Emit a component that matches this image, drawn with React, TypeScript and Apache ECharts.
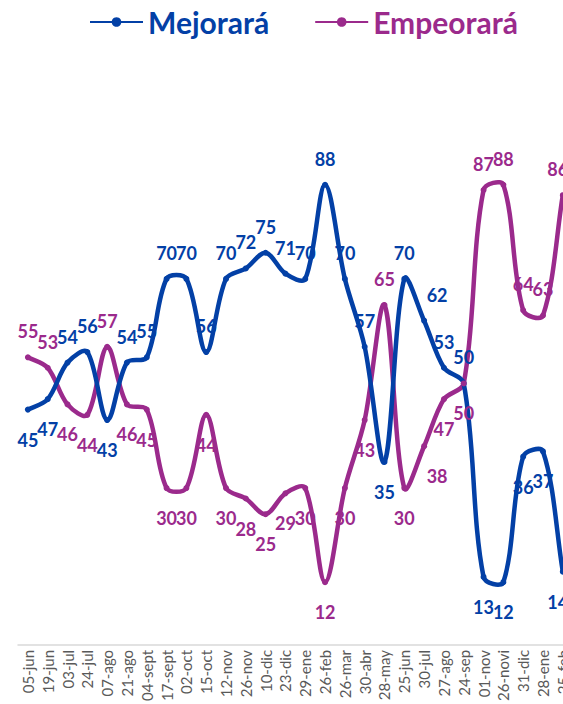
import React, { useEffect, useRef } from "react";
import * as echarts from "echarts";

const categories = [
  "05-jun", "19-jun", "03-jul", "24-jul", "07-ago", "21-ago", "04-sept", "17-sept",
  "02-oct", "15-oct", "12-nov", "26-nov", "10-dic", "23-dic", "29-ene", "26-feb",
  "26-mar", "30-abr", "28-may", "25-jun", "30-jul", "27-ago", "24-sep", "01-nov",
  "26-novi", "31-dic", "28-ene", "25-feb",
];

const mejorara = [45, 47, 54, 56, 43, 54, 55, 70, 70, 56, 70, 72, 75, 71, 70, 88, 70, 57, 35, 70, 62, 53, 50, 13, 12, 36, 37, 14];
const empeorara = [55, 53, 46, 44, 57, 46, 45, 30, 30, 44, 30, 28, 25, 29, 30, 12, 30, 43, 65, 30, 38, 47, 50, 87, 88, 64, 63, 86];

const BLUE = "#0340A6";
const PURPLE = "#9B2A8C";
const FONT = "Lato";
const LINE_W = 4.5;

function buildData(values: number[], other: number[], winsTie: boolean) {
  return values.map((v, i) => {
    const above = winsTie ? v >= other[i] : v > other[i];
    const label: any = {
      position: above ? "top" : "bottom",
      distance: above ? 14 : 18,
    };
    if (categories[i] === "30-jul") label.offset = [13, 0];
    if (i === values.length - 1) label.offset = [-5, 0];
    return { value: v, label };
  });
}

function curveSeries(id: string, color: string, values: number[]) {
  return {
    id,
    name: id,
    type: "custom",
    silent: true,
    z: 1,
    data: values.map((v, i) => [i, v]),
    encode: { x: 0, y: 1 },
    renderItem: (params: any, api: any) => {
      const i = params.dataIndexInside;
      const n = params.dataInsideLength;
      if (i >= n - 1) return null;
      const pt = (k: number) => {
        const kk = Math.max(0, Math.min(n - 1, k));
        return api.coord([api.value(0, kk), api.value(1, kk)]);
      };
      const dist = (a: number[], b: number[]) => Math.hypot(a[0] - b[0], a[1] - b[1]);
      const p0 = pt(i - 1);
      const p1 = pt(i);
      const p2 = pt(i + 1);
      const p3 = pt(i + 2);
      const d01 = dist(p0, p1);
      const d12 = dist(p1, p2);
      const d23 = dist(p2, p3);
      const s = 1 / 3;
      const f1 = d01 + d12 > 0 ? (s * d12) / (d01 + d12) : 0;
      const f2 = d12 + d23 > 0 ? (s * d12) / (d12 + d23) : 0;
      return {
        type: "bezierCurve",
        shape: {
          x1: p1[0],
          y1: p1[1],
          x2: p2[0],
          y2: p2[1],
          cpx1: p1[0] + (p2[0] - p0[0]) * f1,
          cpy1: p1[1] + (p2[1] - p0[1]) * f1,
          cpx2: p2[0] - (p3[0] - p1[0]) * f2,
          cpy2: p2[1] - (p3[1] - p1[1]) * f2,
        },
        style: { stroke: color, lineWidth: LINE_W, fill: "none", lineCap: "round" },
      };
    },
  };
}

export default function App() {
  const ref = useRef<HTMLDivElement>(null);
  useEffect(() => {
    if (!ref.current) return;
    const chart = echarts.init(ref.current, undefined, { renderer: "svg" });
    const mkSeries = (name: string, color: string, values: number[], other: number[], winsTie: boolean) => ({
      name,
      type: "line",
      z: 3,
      symbol: "circle",
      symbolSize: 6,
      lineStyle: { width: LINE_W, color, opacity: 0 },
      itemStyle: { color },
      data: buildData(values, other, winsTie),
      label: {
        show: true,
        color,
        fontFamily: FONT,
        fontWeight: "bold",
        fontSize: 18,
      },
    });
    chart.setOption({
      animation: false,
      textStyle: { fontFamily: FONT },
      legend: {
        left: 84,
        top: 2,
        itemGap: 45,
        itemWidth: 53,
        itemHeight: 12,
        lineStyle: { opacity: 1 },
        data: [
          { name: "Mejorará", textStyle: { color: BLUE } },
          { name: "Empeorará", textStyle: { color: PURPLE } },
        ],
        textStyle: { fontFamily: FONT, fontWeight: "bold", fontSize: 30 },
      },
      grid: { left: 18, right: 27.3, top: 122, bottom: 57, containLabel: false },
      xAxis: {
        type: "category",
        data: categories,
        boundaryGap: true,
        axisLine: { lineStyle: { color: "#D9D9D9", width: 1.5 } },
        axisTick: { show: false },
        axisLabel: {
          rotate: 90,
          interval: 0,
          color: "#595959",
          fontFamily: FONT,
          fontSize: 15,
          margin: 5,
        },
      },
      yAxis: {
        type: "value",
        min: 0,
        max: 100,
        show: false,
        splitLine: { show: false },
      },
      series: [
        curveSeries("empeorara-curve", PURPLE, empeorara),
        curveSeries("mejorara-curve", BLUE, mejorara),
        mkSeries("Mejorará", BLUE, mejorara, empeorara, true),
        mkSeries("Empeorará", PURPLE, empeorara, mejorara, false),
      ],
    });
    return () => chart.dispose();
  }, []);
  return (
    <div style={{ position: "fixed", left: 0, top: 0, width: 563, height: 704, overflow: "hidden", background: "#fff" }}>
      <div ref={ref} style={{ width: 600, height: 704, overflow: "hidden" }} />
    </div>
  );
}
